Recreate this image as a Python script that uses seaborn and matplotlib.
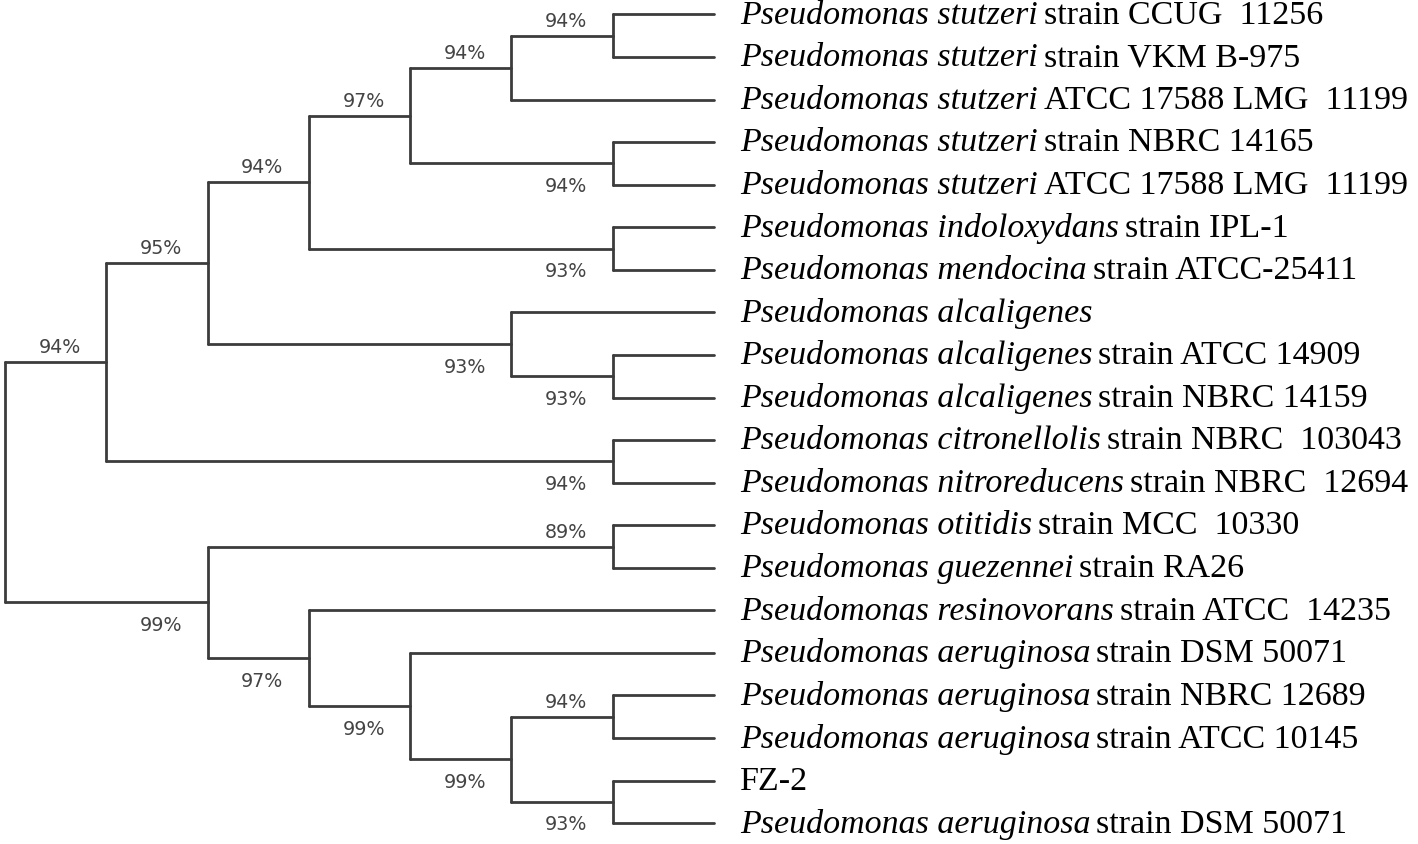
import pandas as pd
import matplotlib
matplotlib.use("Agg")
import matplotlib.pyplot as plt
import seaborn as sns

sns.set_style('white')

# leaf names: italic species part + plain strain part
leaf_species = [
    "Pseudomonas stutzeri", "Pseudomonas stutzeri", "Pseudomonas stutzeri",
    "Pseudomonas stutzeri", "Pseudomonas stutzeri", "Pseudomonas indoloxydans",
    "Pseudomonas mendocina", "Pseudomonas alcaligenes", "Pseudomonas alcaligenes",
    "Pseudomonas alcaligenes", "Pseudomonas citronellolis", "Pseudomonas nitroreducens",
    "Pseudomonas otitidis", "Pseudomonas guezennei", "Pseudomonas resinovorans",
    "Pseudomonas aeruginosa", "Pseudomonas aeruginosa", "Pseudomonas aeruginosa",
    "", "Pseudomonas aeruginosa",
]
leaf_strain = [
    "strain CCUG  11256", "strain VKM B-975", "ATCC 17588 LMG  11199",
    "strain NBRC 14165", "ATCC 17588 LMG  11199", "strain IPL-1",
    "strain ATCC-25411", "", "strain ATCC 14909",
    "strain NBRC 14159", "strain NBRC  103043", "strain NBRC  12694",
    "strain MCC  10330", "strain RA26", "strain ATCC  14235",
    "strain DSM 50071", "strain NBRC 12689", "strain ATCC 10145",
    "FZ-2", "strain DSM 50071",
]

# internal nodes (cladogram level, children, bootstrap support)
# children: ints are leaf indices, strings are node names
node_names = ["n1", "n2", "n3", "n4", "n5", "n6", "n7", "n8", "n9", "n10",
              "n11", "n12", "n13", "n14", "n15", "n16", "n17", "n18", "root"]
node_level = [6, 5, 6, 4, 6, 3, 6, 5, 2, 6, 1, 6, 6, 6, 5, 4, 3, 2, 0]
node_children = [
    [0, 1], ["n1", 2], [3, 4], ["n2", "n3"], [5, 6], ["n4", "n5"],
    [8, 9], [7, "n7"], ["n6", "n8"], [10, 11], ["n9", "n10"],
    [12, 13], [16, 17], [18, 19], ["n13", "n14"], [15, "n15"],
    [14, "n16"], ["n12", "n17"], ["n11", "n18"],
]
node_support = ["94%", "94%", "94%", "97%", "93%", "94%", "93%", "93%", "95%",
                "94%", "94%", "89%", "94%", "93%", "99%", "99%", "97%", "99%", ""]
# label drawn above (+1) or below (-1) its branch
label_side = [1, 1, -1, 1, -1, 1, -1, -1, 1, -1, 1, 1, 1, -1, -1, -1, -1, -1, 0]

LEAF_LEVEL = 7

# work out positions
pos = {}
for i in range(len(leaf_species)):
    pos[i] = (LEAF_LEVEL, float(i))
for name, lvl, ch in zip(node_names, node_level, node_children):
    ys = [pos[c][1] for c in ch]
    pos[name] = (lvl, (min(ys) + max(ys)) / 2)

rows = []
seg = 0
for name, ch in zip(node_names, node_children):
    px, _ = pos[name]
    ys = [pos[c][1] for c in ch]
    rows += [dict(seg=seg, x=px, y=min(ys)), dict(seg=seg, x=px, y=max(ys))]
    seg += 1
    for c in ch:
        cx, cy = pos[c]
        rows += [dict(seg=seg, x=px, y=cy), dict(seg=seg, x=cx, y=cy)]
        seg += 1
edges = pd.DataFrame(rows)

fig = plt.figure(figsize=(14.18, 8.45), dpi=100)
ax = fig.add_axes([0, 0, 1, 1])
sns.lineplot(data=edges, x="x", y="y", units="seg", estimator=None, sort=False,
             color="#3c3c3c", lw=2.0, ax=ax, legend=False)

ax.set_xlim(-0.049, 13.95)
ax.set_ylim(19.49, -0.364)
ax.axis("off")

# bootstrap labels, just left of the node they support
for name, sup, side in zip(node_names, node_support, label_side):
    if not sup:
        continue
    cx, cy = pos[name]
    yl = cy - 0.36 if side > 0 else cy + 0.52
    ax.text(cx - 0.46, yl, sup, ha="center", va="center", fontsize=13.7,
            color="#444444", family="DejaVu Sans")

# leaf labels
serif = "Liberation Serif"
fs = 24.5
for i, (sp, st) in enumerate(zip(leaf_species, leaf_strain)):
    x0 = LEAF_LEVEL + 0.26
    if sp:
        t = ax.text(x0, i, sp, ha="left", va="center", fontsize=fs,
                    family=serif, style="italic", color="black")
        if st:
            ax.annotate(st, xy=(1, 0), xycoords=t, xytext=(4, 0),
                        textcoords="offset points", ha="left", va="bottom",
                        fontsize=fs, family=serif, color="black")
    else:
        ax.text(x0, i, st, ha="left", va="center", fontsize=fs,
                family=serif, color="black")

fig.savefig("out.png", dpi=100)
